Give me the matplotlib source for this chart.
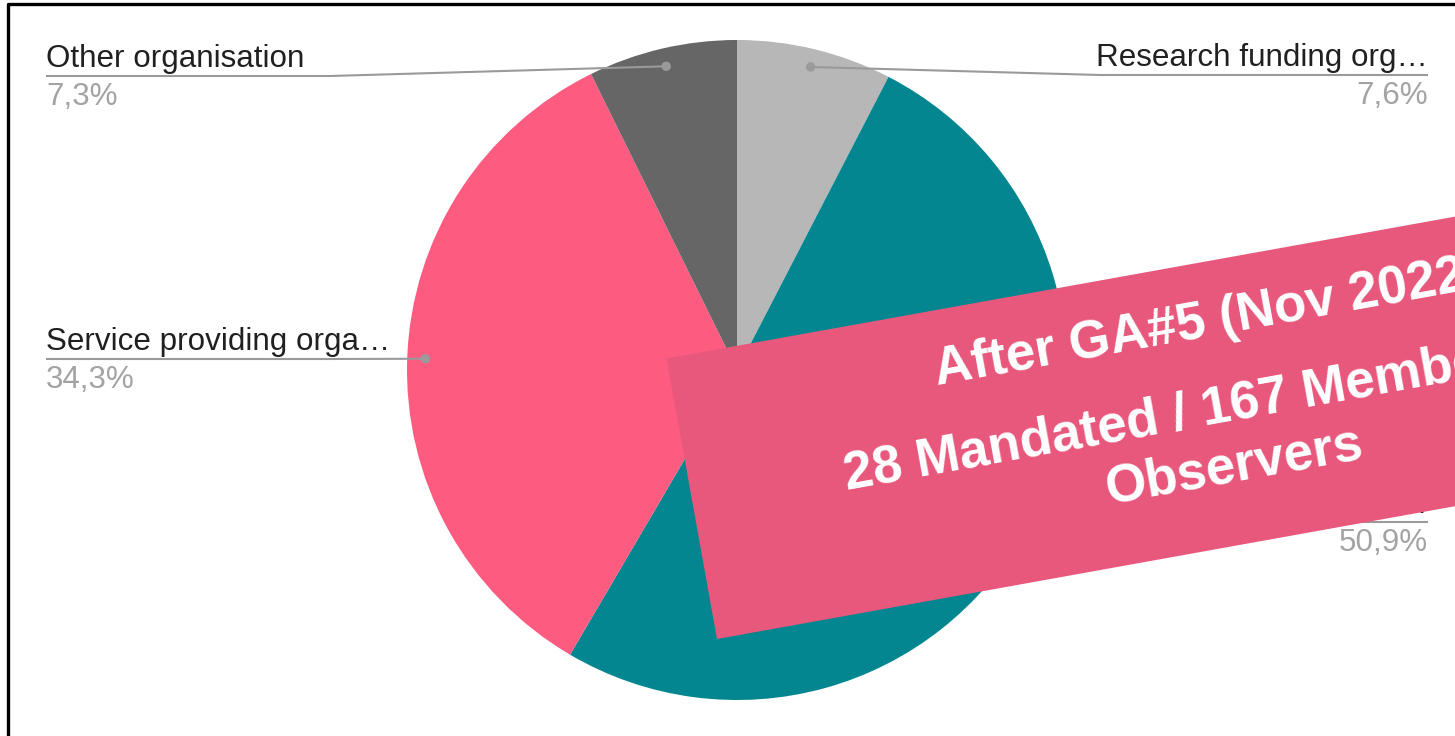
import numpy as np
import matplotlib
matplotlib.use("Agg")
import matplotlib.pyplot as plt
from matplotlib.patches import Rectangle, Circle

# ---- data ----
categories = ["Research funding org\u2026", "Research performing orga\u2026",
              "Service providing orga\u2026", "Other organisation"]
values = [7.6, 50.9, 34.3, 7.3]
pct_labels = ["7,6%", "50,9%", "34,3%", "7,3%"]
colors = ["#b7b7b7", "#03868f", "#fe5b80", "#666666"]
banner_lines = ["After GA#5 (Nov 2022)", "28 Mandated / 167 Members /", "Observers"]

W, H = 1455, 736
fig = plt.figure(figsize=(W / 100, H / 100), dpi=100)
ax = fig.add_axes([0, 0, 1, 1])

def Y(y):
    return H - y

cx, cy, R = 737, Y(370), 330
wedges, _ = ax.pie(values, colors=colors, startangle=90, counterclock=False,
                   radius=R, center=(cx, cy), wedgeprops=dict(linewidth=0))

ax.set_xlim(0, W)
ax.set_ylim(0, H)
ax.set_aspect("equal")
ax.axis("off")

# leader dots at mid-angle of each wedge
dots = []
for w in wedges:
    mid = np.deg2rad((w.theta1 + w.theta2) / 2)
    dots.append((cx + 0.945 * R * np.cos(mid), cy + 0.945 * R * np.sin(mid)))

font = "Liberation Sans"
lab_col = "#202020"
pct_col = "#a3a3a3"
line_col = "#9a9a9a"
fs = 22.6

# label layout: (side, x, underline_y)
layout = [("right", 1428, 75), ("right", 1428, 522), ("left", 46, 359), ("left", 46, 76)]
for i, (side, x, uy) in enumerate(layout):
    ha = "left" if side == "left" else "right"
    ax.text(x, Y(uy - 9), categories[i], ha=ha, va="baseline", fontsize=fs,
            color=lab_col, family=font, zorder=3)
    ax.text(x, Y(uy + 29), pct_labels[i], ha=ha, va="baseline", fontsize=fs,
            color=pct_col, family=font, zorder=3)
    dx, dy = dots[i]
    if side == "left":
        bend = min(330, dx)
        xs = [x, bend, dx]
        ys = [Y(uy), Y(uy), dy]
    else:
        bend = max(1100, dx)
        xs = [dx, bend, x]
        ys = [dy, Y(uy), Y(uy)]
    ax.plot(xs, ys, color=line_col, lw=1.5, zorder=2, solid_capstyle="butt")
    ax.add_patch(Circle((dx, dy), 4, color=line_col, zorder=2))

# frame border (left and top visible)
ax.plot([8, 8, W + 10], [-10, Y(3.5), Y(3.5)], color="black", lw=2.4, zorder=6)

# banner
ang = 10.2
ax.add_patch(Rectangle((717, Y(639)), 1100, 285, angle=ang,
                       facecolor="#e8587d", edgecolor="none", zorder=4))
# banner text lines: (x, baseline y, ha)
banner_pos = [(1211, 336, "center"), (847, 490, "left"), (1237, 480, "center")]
for txt, (bx, by, bha) in zip(banner_lines, banner_pos):
    ax.text(bx, Y(by), txt, rotation=ang, rotation_mode="anchor",
            ha=bha, va="baseline", fontsize=38, fontweight="bold",
            color="white", family=font, zorder=5)

fig.savefig("out.png", dpi=100)
